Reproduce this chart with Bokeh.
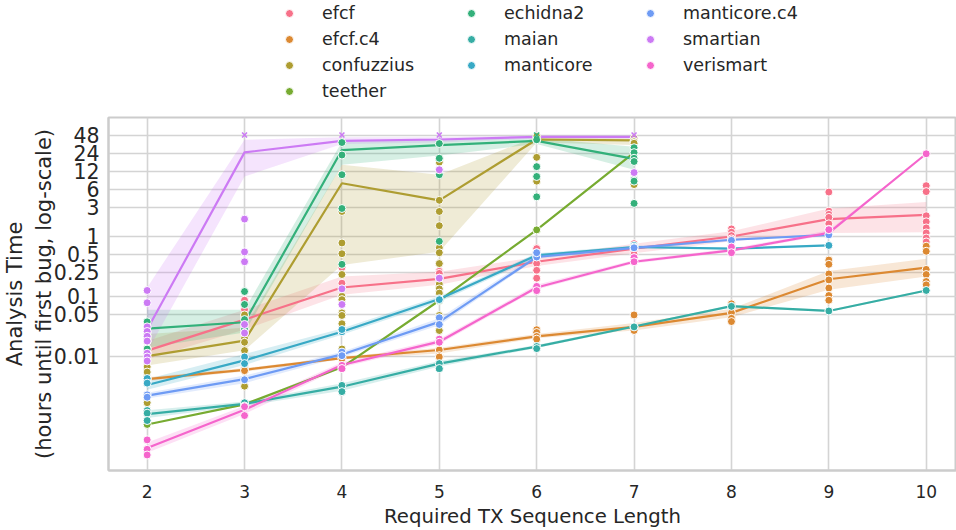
from bokeh.plotting import figure
from bokeh.layouts import column
from bokeh.models import Range1d, FixedTicker, Legend, LegendItem, ColumnDataSource
from bokeh.embed import file_html
from bokeh.resources import INLINE

# ---------------- data ----------------
tools = ["efcf", "efcf.c4", "confuzzius", "teether", "echidna2",
         "maian", "manticore", "manticore.c4", "smartian", "verismart"]
colors = ["#f77189", "#dc8932", "#ae9d31", "#77ab31", "#33b07a",
          "#36ada4", "#38a9c5", "#6e9bf4", "#cc7af4", "#f565cc"]

seq_len = [2, 3, 4, 5, 6, 7, 8, 9, 10]
y_ticks = [0.01, 0.05, 0.1, 0.25, 0.5, 1, 3, 6, 12, 24, 48]
y_tick_labels = ["0.01", "0.05", "0.1", "0.25", "0.5", "1", "3", "6", "12", "24", "48"]

# mean line, CI band low / high (hours) per tool, one entry per sequence length
efcf_x = [2, 3, 4, 5, 6, 7, 8, 9, 10]
efcf_mean = [0.0125, 0.041, 0.14, 0.195, 0.375, 0.62, 0.985, 1.92, 2.26]
efcf_lo = [0.009, 0.028, 0.106, 0.155, 0.32, 0.52, 0.82, 1.13, 1.16]
efcf_hi = [0.018, 0.06, 0.213, 0.257, 0.45, 0.75, 1.2, 2.88, 3.7]

efcf_c4_x = [2, 3, 4, 5, 6, 7, 8, 9, 10]
efcf_c4_mean = [0.0042, 0.006, 0.0094, 0.0128, 0.0215, 0.031, 0.053, 0.192, 0.30]
efcf_c4_lo = [0.0039, 0.0056, 0.0089, 0.0112, 0.0200, 0.027, 0.045, 0.128, 0.213]
efcf_c4_hi = [0.0045, 0.0064, 0.0099, 0.0140, 0.0235, 0.036, 0.062, 0.263, 0.42]

confuzzius_x = [2, 3, 4, 5, 6, 7]
confuzzius_mean = [0.0101, 0.0183, 7.56, 3.94, 40.4, 39.0]
confuzzius_lo = [0.0071, 0.0127, 0.33, 0.55, 36.0, 32.6]
confuzzius_hi = [0.0235, 0.030, 15.3, 10.5, 45.0, 42.0]

teether_x = [2, 3, 4, 5, 6, 7]
teether_mean = [0.00074, 0.0016, 0.0066, 0.085, 1.27, 24.4]
teether_lo = [0.00074, 0.0016, 0.0066, 0.085, 1.27, 24.4]
teether_hi = [0.00074, 0.0016, 0.0066, 0.085, 1.27, 24.4]

echidna2_x = [2, 3, 4, 5, 6, 7]
echidna2_mean = [0.0291, 0.037, 27.0, 32.6, 38.3, 19.2]
echidna2_lo = [0.014, 0.025, 15.3, 22.0, 34.0, 12.7]
echidna2_hi = [0.060, 0.060, 37.0, 40.0, 43.0, 30.6]

maian_x = [2, 3, 4, 5, 6, 7, 8, 9, 10]
maian_mean = [0.0011, 0.00163, 0.00314, 0.0076, 0.0146, 0.0314, 0.0685, 0.057, 0.125]
maian_lo = [0.00095, 0.00150, 0.0027, 0.0068, 0.0138, 0.0300, 0.0660, 0.055, 0.120]
maian_hi = [0.00127, 0.00178, 0.0036, 0.0084, 0.0155, 0.0330, 0.0710, 0.059, 0.130]

manticore_x = [2, 3, 4, 5, 6, 7, 8, 9]
manticore_mean = [0.00335, 0.0086, 0.0257, 0.090, 0.48, 0.66, 0.62, 0.70]
manticore_lo = [0.0028, 0.0072, 0.023, 0.080, 0.44, 0.62, 0.60, 0.68]
manticore_hi = [0.0042, 0.0110, 0.029, 0.100, 0.52, 0.70, 0.64, 0.72]

manticore_c4_x = [2, 3, 4, 5, 6, 7, 8, 9]
manticore_c4_mean = [0.00223, 0.0042, 0.0108, 0.0375, 0.45, 0.64, 0.87, 1.05]
manticore_c4_lo = [0.0020, 0.0036, 0.0098, 0.033, 0.42, 0.60, 0.84, 1.02]
manticore_c4_hi = [0.0025, 0.0048, 0.0120, 0.043, 0.50, 0.68, 0.90, 1.08]

smartian_x = [2, 3, 4, 5, 6, 7]
smartian_mean = [0.028, 24.7, 38.3, 40.4, 44.6, 44.6]
smartian_lo = [0.012, 9.8, 34.0, 36.0, 42.0, 42.0]
smartian_hi = [0.14, 40.0, 44.0, 44.0, 47.0, 47.0]

verismart_x = [2, 3, 4, 5, 6, 7, 8, 9, 10]
verismart_mean = [0.0003, 0.0013, 0.0072, 0.0176, 0.14, 0.375, 0.58, 1.13, 23.4]
verismart_lo = [0.00025, 0.0011, 0.0066, 0.016, 0.13, 0.35, 0.55, 1.05, 23.4]
verismart_hi = [0.00037, 0.0015, 0.0080, 0.0195, 0.155, 0.40, 0.62, 1.25, 23.4]

# individual runs: values per sequence length (aligned with *_x)
efcf_runs = [[0.011, 0.0135, 0.0118], [0.086, 0.06, 0.045, 0.03],
             [0.30, 0.165, 0.10, 0.085], [0.26, 0.24, 0.2, 0.16],
             [0.62, 0.53, 0.35, 0.27, 0.2], [0.75, 0.6, 0.55, 0.5],
             [1.32, 1.16, 1.02, 0.9], [5.4, 2.6, 2.3, 2.05, 1.6, 1.3],
             [6.9, 5.5, 2.18, 1.73, 1.37, 1.13, 0.93, 0.8]]
efcf_c4_runs = [[0.0042, 0.0045, 0.004], [0.0063, 0.0058], [0.0095, 0.0092],
                [0.0128, 0.0103, 0.0098], [0.0278, 0.025, 0.0215, 0.0194],
                [0.049, 0.031, 0.027], [0.075, 0.053, 0.043, 0.038],
                [0.40, 0.34, 0.235, 0.187, 0.137, 0.103, 0.086],
                [0.68, 0.56, 0.28, 0.23, 0.176, 0.155]]
confuzzius_runs = [[0.025, 0.022, 0.02, 0.018, 0.0067, 0.0055, 0.0017],
                   [0.049, 0.025, 0.02, 0.0172, 0.0125, 0.0032],
                   [2.57, 0.77, 0.51, 0.23, 0.1, 0.088, 0.053, 0.048, 0.035, 0.0133],
                   [17.0, 3.94, 2.57, 1.49, 0.64, 0.53, 0.35, 0.16, 0.133, 0.113, 0.048, 0.027],
                   [45.0, 40.0, 20.4, 8.2], [42.0, 38.0, 37.0, 35.0, 7.2]]
teether_runs = [[0.00074], [0.0016], [0.0066], [0.085], [1.27], [24.4]]
echidna2_runs = [[0.0376, 0.0133], [0.12, 0.073, 0.041, 0.0285],
                 [36.0, 22.3, 10.5, 2.88, 0.34], [34.6, 19.7, 10.5, 0.82],
                 [40.0, 14.3, 9.8, 4.5], [29.5, 24.4, 19.7, 17.4, 8.7, 8.2, 3.5]]
maian_runs = [[0.00126, 0.00114, 0.00086], [0.0017, 0.0015], [0.0033, 0.0026],
              [0.0076, 0.0063], [0.0146, 0.0135], [0.031], [0.068], [0.057], [0.125]]
manticore_runs = [[0.0043, 0.0036], [0.0098, 0.0076], [0.0257, 0.028], [0.091, 0.088],
                  [0.48, 0.5], [0.70, 0.66], [0.62], [0.70]]
manticore_c4_runs = [[0.0023, 0.0021], [0.0041], [0.0118, 0.0103], [0.044, 0.034],
                     [0.45, 0.53], [0.64], [0.85], [1.05]]
smartian_runs = [[0.125, 0.078, 0.031, 0.026, 0.0216, 0.018, 0.0113, 0.0098, 0.0084],
                 [1.92, 0.546, 0.375, 0.034, 0.0245], [0.133, 0.073], [12.7, 0.2],
                 [], [11.4]]
verismart_runs = [[0.00041, 0.000286, 0.00023], [0.00146, 0.00104], [0.0071, 0.0063],
                  [0.0194, 0.0172], [0.146, 0.124], [0.44, 0.375], [0.66, 0.53],
                  [1.28], [23.4]]

# runs that hit the 48 h timeout
timeout_len = [3, 4, 5, 6, 7]
timeout_tool = ["smartian", "smartian", "smartian", "echidna2", "smartian"]
timeout_hours = [48, 48, 48, 48, 48]

series = {
    "efcf": (efcf_x, efcf_mean, efcf_lo, efcf_hi, efcf_runs),
    "efcf.c4": (efcf_c4_x, efcf_c4_mean, efcf_c4_lo, efcf_c4_hi, efcf_c4_runs),
    "confuzzius": (confuzzius_x, confuzzius_mean, confuzzius_lo, confuzzius_hi, confuzzius_runs),
    "teether": (teether_x, teether_mean, teether_lo, teether_hi, teether_runs),
    "echidna2": (echidna2_x, echidna2_mean, echidna2_lo, echidna2_hi, echidna2_runs),
    "maian": (maian_x, maian_mean, maian_lo, maian_hi, maian_runs),
    "manticore": (manticore_x, manticore_mean, manticore_lo, manticore_hi, manticore_runs),
    "manticore.c4": (manticore_c4_x, manticore_c4_mean, manticore_c4_lo, manticore_c4_hi, manticore_c4_runs),
    "smartian": (smartian_x, smartian_mean, smartian_lo, smartian_hi, smartian_runs),
    "verismart": (verismart_x, verismart_mean, verismart_lo, verismart_hi, verismart_runs),
}

# ---------------- styling ----------------
FONT = "DejaVu Sans"
TXT = "#262626"
GRID = "#d4d4d4"
W = 956
LEG_H = 116
MAIN_H = 530 - LEG_H
FRAME_LEFT = 107

# ---------------- main plot ----------------
p = figure(width=W, height=MAIN_H, output_backend="svg", toolbar_location=None,
           y_axis_type="log",
           x_range=Range1d(1.603, 10.311), y_range=Range1d(0.000127, 93.8),
           min_border_left=FRAME_LEFT, min_border_right=0, min_border_top=1,
           min_border_bottom=55)
p.background_fill_color = "white"
p.border_fill_color = "white"
p.outline_line_color = "#cccccc"
p.outline_line_width = 2

p.xaxis.ticker = FixedTicker(ticks=seq_len)
p.yaxis.ticker = FixedTicker(ticks=y_ticks)
p.yaxis.major_label_overrides = {t: l for t, l in zip(y_ticks, y_tick_labels)}
for ax in (p.xaxis[0], p.yaxis[0]):
    ax.axis_line_color = "#cccccc"
    ax.axis_line_width = 2
    ax.major_tick_line_color = None
    ax.minor_tick_line_color = None
    ax.major_label_text_font = FONT
    ax.major_label_text_color = TXT
    ax.axis_label_text_font = FONT
    ax.axis_label_text_font_style = "normal"
    ax.axis_label_text_color = TXT
p.xaxis.major_label_text_font_size = "17px"
p.xaxis.axis_label_text_font_size = "19.7px"
p.yaxis.major_label_text_font_size = "20.5px"
p.yaxis.axis_label_text_font_size = "21px"
p.xaxis.major_label_standoff = 8
p.yaxis.major_label_standoff = 3
p.xaxis.axis_label = "Required TX Sequence Length"
p.xaxis.axis_label_standoff = 4
p.yaxis.axis_label = "Analysis Time\n(hours until first bug, log-scale)"
p.yaxis.axis_label_standoff = -5

p.xgrid.ticker = FixedTicker(ticks=seq_len)
p.ygrid.ticker = FixedTicker(ticks=y_ticks)
p.grid.grid_line_color = GRID
p.grid.grid_line_width = 1.6
p.ygrid.minor_grid_line_color = None

# confidence bands
for tool, col in zip(tools, colors):
    xs, mean, lo, hi, runs = series[tool]
    src = ColumnDataSource(dict(x=xs, lo=lo, hi=hi))
    p.varea(x="x", y1="lo", y2="hi", source=src, fill_color=col, fill_alpha=0.2)

# mean lines
for tool, col in zip(tools, colors):
    xs, mean, lo, hi, runs = series[tool]
    p.line(xs, mean, line_color=col, line_width=2.2)

# individual runs
for tool, col in zip(tools, colors):
    xs, mean, lo, hi, runs = series[tool]
    px, py = [], []
    for xv, vals in zip(xs, runs):
        for v in vals:
            px.append(xv)
            py.append(v)
    p.scatter(px, py, size=8, fill_color=col, line_color="white", line_width=1)

# timeouts
col_of = dict(zip(tools, colors))
p.scatter(timeout_len, timeout_hours, marker="x", size=7, line_width=1.6,
          line_color=[col_of[t] for t in timeout_tool])

# ---------------- legend strip above the plot ----------------
lg_fig = figure(width=W, height=LEG_H, output_backend="svg", toolbar_location=None,
                x_range=Range1d(0, 1), y_range=Range1d(0, 1),
                x_axis_location=None, y_axis_location=None,
                min_border=0)
lg_fig.outline_line_color = None
lg_fig.grid.visible = False
lg_fig.background_fill_color = "white"
lg_fig.border_fill_color = "white"

# legend swatches (one point each, kept outside the visible range)
dummy = {}
for tool, col in zip(tools, colors):
    dummy[tool] = lg_fig.scatter([-5], [-5], size=8, fill_color=col,
                                 line_color="white", line_width=1)

col_groups = [tools[0:4], tools[4:7], tools[7:10]]
col_left = [278 - FRAME_LEFT, 460 - FRAME_LEFT, 639 - FRAME_LEFT]
col_bottom = [15, 41, 41]
for group, vx, vy in zip(col_groups, col_left, col_bottom):
    items = [LegendItem(label=t, renderers=[dummy[t]]) for t in group]
    lg = Legend(items=items, location=(vx, vy),
                orientation="vertical", padding=0, margin=0, spacing=6,
                glyph_width=20, glyph_height=20, label_height=20,
                label_standoff=23, border_line_color=None,
                background_fill_alpha=0, label_text_font=FONT,
                label_text_font_size="17.5px", label_text_color=TXT)
    lg_fig.add_layout(lg, "center")

layout = column(lg_fig, p, spacing=0)
open("out.html", "w").write(file_html(layout, INLINE))
